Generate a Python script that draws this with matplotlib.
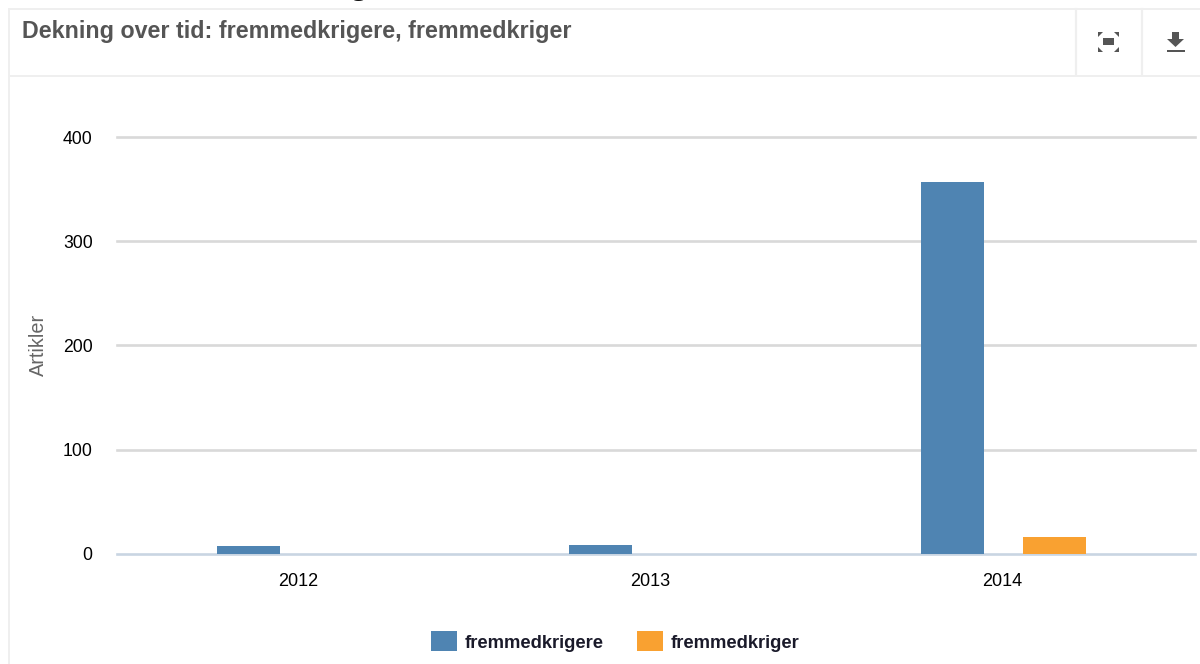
import matplotlib
matplotlib.use("Agg")
import matplotlib.pyplot as plt
from matplotlib.patches import Rectangle, Polygon

years = ["2012", "2013", "2014"]
series_a_name = "fremmedkrigere"
series_b_name = "fremmedkriger"
series_a = [7.5, 8.5, 356.5]
series_b = [0, 0, 16]
y_ticks = [0, 100, 200, 300, 400]
title = "Dekning over tid: fremmedkrigere, fremmedkriger"
y_label = "Artikler"

BLUE = "#4f84b2"
ORANGE = "#f9a131"
W, H = 1200, 664
plt.rcParams["font.family"] = ["Liberation Sans", "DejaVu Sans"]

fig = plt.figure(figsize=(W / 100, H / 100), dpi=100, facecolor="white")

# Page furniture in pixel coordinates
bg = fig.add_axes([0, 0, 1, 1], zorder=0)
bg.set_xlim(0, W)
bg.set_ylim(H, 0)
bg.axis("off")
FR = "#efefef"
bg.plot([8.5, 1200], [9, 9], color=FR, lw=1.4)
bg.plot([8.5, 8.5], [9, 664], color=FR, lw=1.4)
bg.plot([8.5, 1200], [75.5, 75.5], color=FR, lw=1.4)
bg.plot([1075.5, 1075.5], [9, 75], color=FR, lw=1.6)
bg.plot([1142, 1142], [9, 75], color=FR, lw=1.6)

# fullscreen icon
IC = "#555555"
bg.add_patch(Rectangle((1103, 38), 11, 7, color=IC, lw=0))
for cx, sx in ((1098, 1), (1119, -1)):
    for cy, sy in ((32, 1), (52, -1)):
        bg.add_patch(Polygon([(cx, cy), (cx + 5 * sx, cy), (cx, cy + 5 * sy)], color=IC, lw=0))
# download icon
bg.add_patch(Polygon([(1172, 32), (1179, 32), (1179, 39), (1184, 39), (1175.5, 47),
                      (1167, 39), (1172, 39)], color=IC, lw=0))
bg.add_patch(Rectangle((1167, 49.5), 18, 2, color=IC, lw=0))

# Chart axes: y 0 at px 553.8, 400 at px 137; categories at 298.5 + 352*i
L, R, T, B = 117, 1195, 137, 553.8
ax = fig.add_axes([L / W, 1 - B / H, (R - L) / W, (B - T) / H], zorder=1)
ax.patch.set_alpha(0)
ax.set_xlim((L - 298.5) / 352, (R - 298.5) / 352)
ax.set_ylim(0, 400)
for s in ax.spines.values():
    s.set_visible(False)

for v in y_ticks:
    ax.axhline(v, color="#c9d5e2" if v == 0 else "#d9d9d9", lw=1.9, zorder=1, clip_on=False)

xs = range(len(years))
w = 0.179
ax.bar([i - 0.142 for i in xs], series_a, width=w, color=BLUE, zorder=3)
ax.bar([i + 0.149 for i in xs], series_b, width=w, color=ORANGE, zorder=3)

ax.set_xticks(list(xs), years)
ax.set_yticks(y_ticks)
ax.tick_params(axis="both", length=0, labelcolor="#000000")
ax.tick_params(axis="x", pad=14, labelsize=13)
ax.tick_params(axis="y", pad=17.5, labelsize=12.7)

fig.text(38.5 / W, 1 - 345 / H, y_label, rotation=90, ha="center", va="center",
         fontsize=14.3, color="#666666")
fig.text(22 / W, 1 - 31.5 / H, title, ha="left", va="center", fontsize=16.76,
         fontweight="bold", color="#555555")
# Descender of a heading cut off by the top of the screenshot
fig.text(358 / W, 1 - (-5) / H, "g", ha="center", va="baseline", fontsize=20,
         fontweight="bold", family=["Liberation Serif"], color="#111111")

# Legend
bg.add_patch(Rectangle((431, 631), 26, 20, color=BLUE, lw=0))
bg.add_patch(Rectangle((637, 631), 26, 20, color=ORANGE, lw=0))
bg.text(465, 644, series_a_name, ha="left", va="center", fontsize=13.2, fontweight="bold", color="#1a1a2a")
bg.text(671, 644, series_b_name, ha="left", va="center", fontsize=13.2, fontweight="bold", color="#1a1a2a")

fig.savefig("out.png", dpi=100, facecolor="white")
